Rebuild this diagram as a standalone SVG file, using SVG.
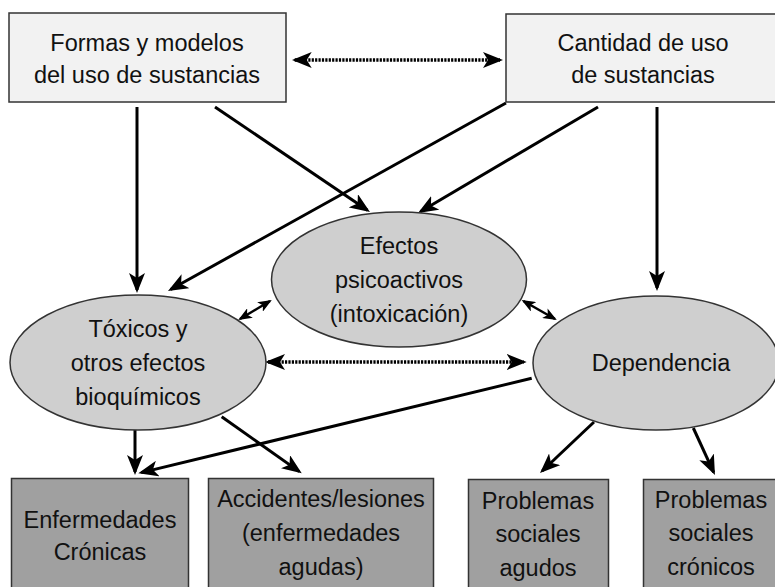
<svg xmlns="http://www.w3.org/2000/svg" width="775" height="587" viewBox="0 0 775 587">
<style>
.t{font-family:"Liberation Sans",Arial,sans-serif;font-size:23.5px;fill:#111;text-anchor:middle}
.top{fill:#f2f2f2;stroke:#333;stroke-width:1.5}
.ell{fill:#cfcfcf;stroke:#333;stroke-width:1.5}
.bot{fill:#a0a0a0;stroke:#333;stroke-width:1.5}
.c{stroke:#000;stroke-width:3;fill:none}
.cd{stroke:#000;stroke-width:3.5;fill:none;stroke-dasharray:2.2 1.2}
.cs{stroke:#000;stroke-width:2.5;fill:none}
</style>
<defs>
<marker id="ah" viewBox="0 0 20 16" markerWidth="20" markerHeight="16" refX="17" refY="8" orient="auto-start-reverse" markerUnits="userSpaceOnUse">
<path d="M0,0 L20,8 L0,16 L5,8 Z" fill="#000"/>
</marker>
<marker id="ahs" viewBox="0 0 20 16" markerWidth="14" markerHeight="11" refX="17" refY="8" orient="auto-start-reverse" markerUnits="userSpaceOnUse">
<path d="M0,0 L20,8 L0,16 L5,8 Z" fill="#000"/>
</marker>
</defs>
<rect width="775" height="587" fill="#fff"/>
<g id="connectors">
<line class="cd" x1="294.7" y1="60" x2="500" y2="60" marker-start="url(#ah)" marker-end="url(#ah)"/>
<line class="c" x1="137" y1="107" x2="137" y2="290" marker-end="url(#ah)"/>
<line class="c" x1="215" y1="107" x2="367.5" y2="210.3" marker-end="url(#ah)"/>
<line class="c" x1="506" y1="103" x2="170.6" y2="289.5" marker-end="url(#ah)"/>
<line class="c" x1="598" y1="107" x2="420.6" y2="211.5" marker-end="url(#ah)"/>
<line class="c" x1="657" y1="107" x2="657" y2="288" marker-end="url(#ah)"/>
<line class="cs" x1="240" y1="319" x2="270" y2="301" marker-start="url(#ahs)" marker-end="url(#ahs)"/>
<line class="cs" x1="523.4" y1="301" x2="555" y2="319" marker-start="url(#ahs)" marker-end="url(#ahs)"/>
<line class="cd" x1="268" y1="362" x2="523.7" y2="362" marker-start="url(#ah)" marker-end="url(#ah)"/>
<line class="c" x1="135" y1="430" x2="135" y2="472" marker-end="url(#ah)"/>
<line class="c" x1="221.7" y1="416.7" x2="299.3" y2="471.6" marker-end="url(#ah)"/>
<line class="c" x1="531.7" y1="378.3" x2="141.2" y2="472.6" marker-end="url(#ah)"/>
<line class="c" x1="594" y1="422" x2="542.2" y2="471" marker-end="url(#ah)"/>
<line class="c" x1="693.3" y1="428" x2="713.7" y2="472.3" marker-end="url(#ah)"/>
</g>
<g id="formas">
<rect class="top" x="9" y="13" width="277" height="89"/>
<text class="t" x="147" y="51">Formas y modelos</text>
<text class="t" x="147" y="83">del uso de sustancias</text>
</g>
<g id="cantidad">
<rect class="top" x="506" y="14" width="274" height="88"/>
<text class="t" x="643" y="51">Cantidad de uso</text>
<text class="t" x="643" y="83">de sustancias</text>
</g>
<g id="efectos">
<ellipse class="ell" cx="399" cy="279.5" rx="127.5" ry="67.5"/>
<text class="t" x="399" y="254">Efectos</text>
<text class="t" x="399" y="288">psicoactivos</text>
<text class="t" x="399" y="322">(intoxicación)</text>
</g>
<g id="toxicos">
<ellipse class="ell" cx="138" cy="362.5" rx="128" ry="67.5"/>
<text class="t" x="138" y="337">Tóxicos y</text>
<text class="t" x="138" y="371">otros efectos</text>
<text class="t" x="138" y="405">bioquímicos</text>
</g>
<g id="dependencia">
<ellipse class="ell" cx="656" cy="363" rx="123" ry="67"/>
<text class="t" x="661" y="371">Dependencia</text>
</g>
<g id="enfermedades">
<rect class="bot" x="11.5" y="478.5" width="177" height="120"/>
<text class="t" x="100" y="528">Enfermedades</text>
<text class="t" x="100" y="560">Crónicas</text>
</g>
<g id="accidentes">
<rect class="bot" x="208.5" y="478.5" width="225" height="120"/>
<text class="t" x="321" y="507">Accidentes/lesiones</text>
<text class="t" x="321" y="541">(enfermedades</text>
<text class="t" x="321" y="575">agudas)</text>
</g>
<g id="sociales-agudos">
<rect class="bot" x="468.5" y="479.5" width="140" height="120"/>
<text class="t" x="538" y="509">Problemas</text>
<text class="t" x="538" y="542">sociales</text>
<text class="t" x="538" y="576">agudos</text>
</g>
<g id="sociales-cronicos">
<rect class="bot" x="643.5" y="479.5" width="136" height="120"/>
<text class="t" x="711" y="508">Problemas</text>
<text class="t" x="711" y="541">sociales</text>
<text class="t" x="711" y="575">crónicos</text>
</g>
</svg>
